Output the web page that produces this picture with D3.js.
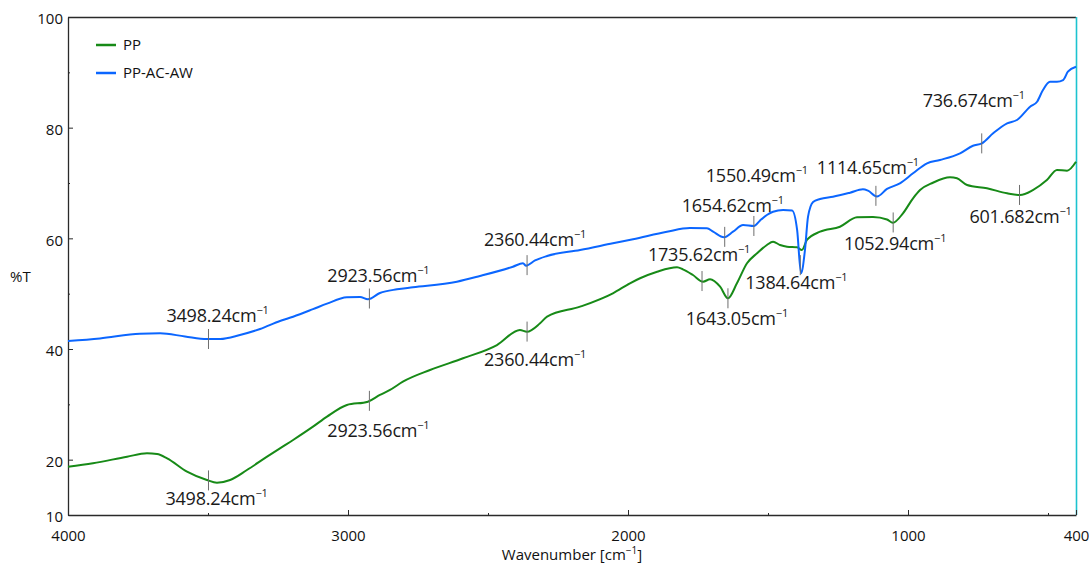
<!DOCTYPE html>
<html>
<head>
<meta charset="utf-8">
<script src="https://cdn.jsdelivr.net/npm/d3@7"></script>
<style>
  html, body { margin: 0; padding: 0; background: #fff; }
  svg { display: block; font-family: "Open Sans", "Noto Sans", sans-serif; }
</style>
</head>
<body>
<svg id="chart" width="1089" height="565"></svg>
<script>
// FTIR spectra: transmittance (%T) against wavenumber (cm^-1)
const seriesNames = ["PP", "PP-AC-AW"];

const ppWavenumber = [4000, 3911, 3789, 3718, 3682, 3646, 3575, 3504, 3468, 3421, 3361, 3289, 3243, 3196, 3125, 3075, 3004, 2929, 2886, 2850, 2804, 2707, 2589, 2468, 2386, 2361, 2314, 2289, 2171, 2054, 1993, 1957, 1896, 1825, 1804, 1768, 1732, 1707, 1671, 1643, 1611, 1575, 1539, 1504, 1482, 1457, 1432, 1396, 1379, 1361, 1314, 1243, 1182, 1125, 1075, 1054, 1018, 982, 957, 911, 850, 825, 789, 718, 646, 600, 554, 504, 468, 432, 400];
const ppTransmittance = [18.73, 19.34, 20.54, 21.15, 21.02, 20.25, 17.83, 16.33, 15.84, 16.33, 18.13, 20.54, 22.05, 23.56, 25.96, 27.77, 29.88, 30.48, 31.69, 32.6, 34.09, 36.20, 38.32, 40.72, 43.43, 43.13, 44.65, 45.84, 47.65, 50.07, 51.87, 52.78, 53.97, 54.77, 54.40, 53.37, 52.16, 52.60, 51.26, 49.16, 51.87, 55.49, 57.30, 58.80, 59.39, 58.80, 58.49, 58.38, 57.89, 59.70, 61.20, 62.10, 63.80, 63.86, 63.40, 62.82, 64.52, 67.24, 68.73, 70.05, 71.03, 70.85, 69.64, 69.04, 68.14, 67.83, 68.73, 70.54, 72.35, 72.22, 73.85];

const acWavenumber = [4000, 3886, 3743, 3671, 3582, 3504, 3457, 3386, 3314, 3243, 3196, 3125, 3075, 3004, 2957, 2929, 2886, 2825, 2768, 2611, 2529, 2411, 2375, 2364, 2332, 2289, 2171, 2054, 1982, 1861, 1779, 1718, 1696, 1657, 1625, 1589, 1550, 1529, 1504, 1482, 1446, 1414, 1396, 1382, 1368, 1357, 1339, 1314, 1268, 1207, 1161, 1143, 1111, 1075, 1029, 982, 932, 886, 814, 768, 736, 696, 646, 611, 564, 539, 518, 493, 468, 446, 429, 400];
const acTransmittance = [41.45, 41.90, 42.77, 42.84, 42.26, 41.81, 41.81, 42.53, 43.61, 45.06, 45.84, 47.2, 48.2, 49.34, 49.40, 48.98, 50.12, 50.79, 51.15, 52.16, 53.19, 54.87, 55.49, 55.05, 56.00, 56.81, 57.89, 59.10, 59.83, 61.20, 61.87, 61.81, 61.20, 60.19, 61.20, 62.41, 62.23, 63.19, 64.22, 64.81, 65.12, 65.03, 61.51, 53.68, 57.89, 63.91, 66.57, 67.11, 67.52, 68.25, 68.86, 68.61, 67.56, 68.92, 69.95, 71.75, 73.56, 74.16, 75.37, 76.74, 77.17, 78.98, 80.79, 81.39, 83.79, 84.69, 86.81, 88.31, 88.31, 88.61, 90.11, 91.02];

// Picked peak positions (cm^-1)
const ppPeaks = [3498.24, 2923.56, 2360.44, 1735.62, 1643.05, 1052.94, 601.682];
const acPeaks = [3498.24, 2923.56, 2360.44, 1654.62, 1550.49, 1384.64, 1114.65, 736.674];

// Axis ticks
const xMajorTicks = [4000, 3000, 2000, 1000, 400];
const xMinorTicks = [3500, 2500, 1500, 500];
const yMajorTicks = [10, 20, 40, 60, 80, 100];
const yMinorTicks = [30, 50, 70, 90];

const colors = { "PP": "#178a17", "PP-AC-AW": "#0b66ff" };

const svg = d3.select("#chart");
const plot = { left: 68, right: 1076, top: 17, bottom: 515 };

const x = d3.scaleLinear().domain([4000, 400]).range([plot.left, plot.right]);
const y = d3.scaleLinear().domain([10, 100]).range([plot.bottom, plot.top]);

const series = [
  { name: "PP", points: ppWavenumber.map((w, i) => [w, ppTransmittance[i]]), peaks: ppPeaks },
  { name: "PP-AC-AW", points: acWavenumber.map((w, i) => [w, acTransmittance[i]]), peaks: acPeaks }
];

// frame: top edge and cyan right edge
svg.append("line")
  .attr("x1", plot.left).attr("x2", plot.right)
  .attr("y1", plot.top + 0.5).attr("y2", plot.top + 0.5)
  .attr("stroke", "#2a2a2a").attr("stroke-width", 1.3);
svg.append("line")
  .attr("x1", plot.right + 0.5).attr("x2", plot.right + 0.5)
  .attr("y1", plot.top).attr("y2", plot.bottom)
  .attr("stroke", "#1cc3cf").attr("stroke-width", 1.6);

// axes
function styleAxis(g) {
  g.select(".domain").attr("stroke", "#2a2a2a").attr("stroke-width", 1.3);
  g.selectAll(".tick line").attr("stroke", "#2a2a2a");
  g.selectAll(".tick text").attr("fill", "#111").style("font-size", "15px")
    .style("font-family", "'Open Sans', 'Noto Sans', sans-serif");
}

svg.append("g").attr("transform", `translate(0,${plot.bottom})`)
  .call(d3.axisBottom(x).tickValues(xMajorTicks).tickSizeInner(-5).tickSizeOuter(0).tickPadding(15).tickFormat(d3.format("d")))
  .call(styleAxis);
svg.append("g").attr("transform", `translate(0,${plot.bottom})`)
  .call(d3.axisBottom(x).tickValues(xMinorTicks).tickSizeInner(-2).tickSizeOuter(0).tickFormat(""))
  .call(g => g.select(".domain").remove())
  .call(g => g.selectAll(".tick line").attr("stroke", "#2a2a2a"));

const yAxis = svg.append("g").attr("transform", `translate(${plot.left},0)`)
  .call(d3.axisLeft(y).tickValues(yMajorTicks).tickSizeInner(-5).tickSizeOuter(0).tickPadding(5).tickFormat(d3.format("d")))
  .call(styleAxis);
yAxis.selectAll(".tick text").attr("dy", "0.45em");
svg.append("g").attr("transform", `translate(${plot.left},0)`)
  .call(d3.axisLeft(y).tickValues(yMinorTicks).tickSizeInner(-2).tickSizeOuter(0).tickFormat(""))
  .call(g => g.select(".domain").remove())
  .call(g => g.selectAll(".tick line").attr("stroke", "#2a2a2a"));

// axis titles
const xTitle = svg.append("text")
  .attr("x", (plot.left + plot.right) / 2).attr("y", 560)
  .attr("text-anchor", "middle").attr("fill", "#111").style("font-size", "15px");
xTitle.append("tspan").text("Wavenumber [cm");
xTitle.append("tspan").attr("dy", -6).style("font-size", "10px").text("\u22121");
xTitle.append("tspan").attr("dy", 6).text("]");

svg.append("text")
  .attr("x", 10).attr("y", 282)
  .attr("fill", "#111").style("font-size", "15px").text("%T");

// spectra
const line = d3.line()
  .x(d => x(d[0])).y(d => y(d[1]))
  .curve(d3.curveMonotoneX);

svg.append("g").selectAll("path")
  .data(series)
  .join("path")
  .attr("d", d => line(d.points))
  .attr("fill", "none")
  .attr("stroke", d => colors[d.name])
  .attr("stroke-width", 2)
  .attr("stroke-linejoin", "round");

// peak markers and labels; offsets place each label beside its marker
const labelOffsets = {
  "PP": [[8, 25], [9, 36], [8, 34], [-3, -20], [9, 27], [2, 28], [1, 28]],
  "PP-AC-AW": [[9, -17], [9, -17], [8, -19], [8, -25], [3, -44], [-4, 24], [-8, -22], [-8, -36]]
};

function valueAt(points, w) {
  for (let i = 0; i < points.length - 1; i++) {
    const a = points[i], b = points[i + 1];
    if (w <= a[0] && w >= b[0]) {
      const t = (a[0] - w) / (a[0] - b[0]);
      return a[1] + t * (b[1] - a[1]);
    }
  }
  return points[points.length - 1][1];
}

const fmt = d3.format(".6r");
const ann = svg.append("g");
series.forEach(s => {
  s.peaks.forEach((w, i) => {
    const px = x(w), py = y(valueAt(s.points, w));
    ann.append("line")
      .attr("x1", px).attr("x2", px)
      .attr("y1", py - 10).attr("y2", py + 10)
      .attr("stroke", "#6e6e6e").attr("stroke-width", 1);
    const [dx, dy] = labelOffsets[s.name][i];
    const t = ann.append("text")
      .attr("x", px + dx).attr("y", py + dy)
      .attr("text-anchor", "middle").attr("fill", "#1a1a1a")
      .style("font-size", "18px")
      .style("letter-spacing", "-0.2px");
    t.append("tspan").text(fmt(w) + "cm");
    t.append("tspan").attr("dy", -8).style("font-size", "11px").text("\u22121");
  });
});

// legend
const legend = svg.append("g");
seriesNames.forEach((name, i) => {
  const ly = 45 + i * 28;
  legend.append("line")
    .attr("x1", 96).attr("x2", 116).attr("y1", ly).attr("y2", ly)
    .attr("stroke", colors[name]).attr("stroke-width", 2.5);
  legend.append("text")
    .attr("x", 123).attr("y", ly).attr("dy", "0.35em")
    .attr("fill", "#111").style("font-size", "15px").text(name);
});
</script>
</body>
</html>
